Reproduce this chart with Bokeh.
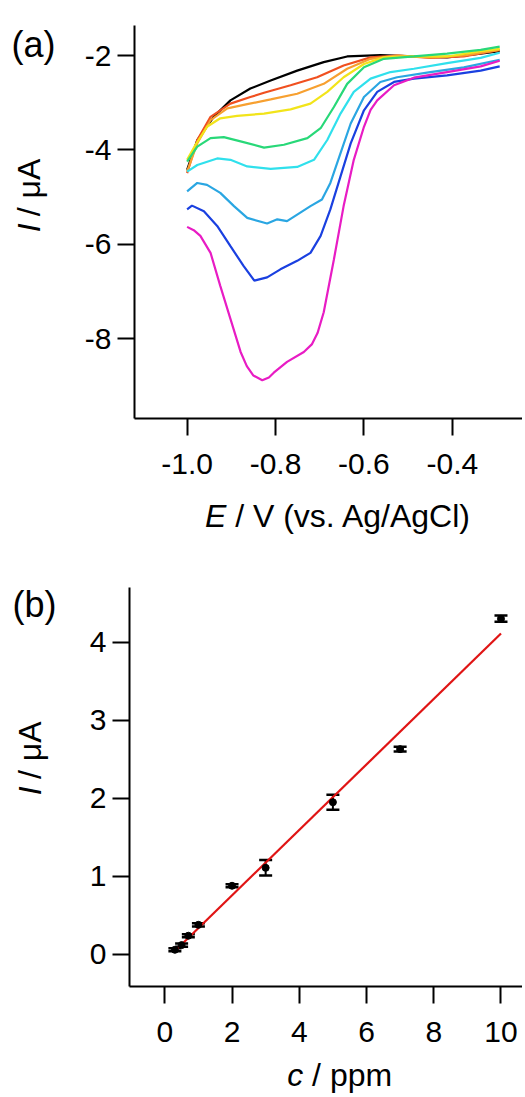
import math
from bokeh.plotting import figure
from bokeh.layouts import column, row
from bokeh.models import (Range1d, FixedTicker, PrintfTickFormatter,
                          Whisker, TeeHead, ColumnDataSource)
from bokeh.core.properties import value
from bokeh.embed import file_html
from bokeh.resources import INLINE

FONT = "Liberation Sans"

# ---------------- panel (a): voltammograms ----------------
E_black = [-1.0, -0.977, -0.940, -0.902, -0.857, -0.811, -0.751, -0.691, -0.638, -0.563, -0.487, -0.412, -0.336, -0.293]
I_black = [-4.42, -3.79, -3.30, -2.95, -2.70, -2.53, -2.32, -2.14, -2.02, -1.99, -2.02, -2.04, -1.96, -1.91]

E_red = [-1.0, -0.977, -0.947, -0.902, -0.857, -0.826, -0.766, -0.706, -0.646, -0.585, -0.525, -0.450, -0.374, -0.293]
I_red = [-4.49, -3.79, -3.30, -3.02, -2.88, -2.79, -2.63, -2.46, -2.21, -2.04, -2.00, -2.05, -2.02, -1.88]

E_orange = [-1.0, -0.977, -0.947, -0.909, -0.864, -0.811, -0.751, -0.691, -0.638, -0.585, -0.525, -0.450, -0.374, -0.293]
I_orange = [-4.46, -3.86, -3.37, -3.12, -3.03, -2.93, -2.81, -2.60, -2.28, -2.07, -2.00, -2.04, -2.00, -1.88]

E_yellow = [-1.0, -0.981, -0.955, -0.925, -0.887, -0.826, -0.766, -0.721, -0.683, -0.646, -0.600, -0.555, -0.487, -0.412, -0.336, -0.293]
I_yellow = [-4.21, -3.89, -3.51, -3.33, -3.28, -3.23, -3.14, -3.02, -2.77, -2.46, -2.18, -2.04, -2.02, -2.02, -1.91, -1.86]

E_green = [-1.0, -0.977, -0.947, -0.917, -0.879, -0.826, -0.781, -0.728, -0.698, -0.668, -0.638, -0.600, -0.555, -0.487, -0.412, -0.336, -0.293]
I_green = [-4.25, -3.93, -3.75, -3.73, -3.82, -3.95, -3.89, -3.75, -3.54, -3.09, -2.60, -2.25, -2.07, -2.02, -1.96, -1.88, -1.81]

E_cyan = [-1.0, -0.977, -0.932, -0.902, -0.864, -0.811, -0.751, -0.713, -0.683, -0.653, -0.623, -0.585, -0.540, -0.487, -0.412, -0.336, -0.293]
I_cyan = [-4.46, -4.32, -4.18, -4.21, -4.35, -4.40, -4.36, -4.21, -3.79, -3.23, -2.77, -2.49, -2.35, -2.28, -2.16, -2.05, -1.94]

E_lblue = [-1.0, -0.977, -0.955, -0.925, -0.894, -0.864, -0.819, -0.796, -0.774, -0.751, -0.721, -0.695, -0.676, -0.653, -0.630, -0.600, -0.563, -0.525, -0.450, -0.374, -0.293]
I_lblue = [-4.88, -4.70, -4.74, -4.91, -5.19, -5.44, -5.56, -5.47, -5.51, -5.37, -5.19, -5.05, -4.70, -4.07, -3.44, -2.88, -2.56, -2.46, -2.35, -2.25, -2.09]

E_blue = [-1.0, -0.989, -0.962, -0.932, -0.902, -0.872, -0.848, -0.819, -0.789, -0.751, -0.721, -0.698, -0.676, -0.653, -0.630, -0.600, -0.570, -0.532, -0.487, -0.412, -0.336, -0.293]
I_blue = [-5.26, -5.18, -5.30, -5.61, -6.04, -6.46, -6.77, -6.70, -6.53, -6.35, -6.18, -5.82, -5.26, -4.56, -3.86, -3.16, -2.77, -2.56, -2.49, -2.42, -2.32, -2.23]

E_magenta = [-1.0, -0.985, -0.970, -0.947, -0.925, -0.902, -0.879, -0.865, -0.850, -0.830, -0.815, -0.804, -0.774, -0.736, -0.718, -0.705, -0.691, -0.668, -0.646, -0.623, -0.600, -0.585, -0.570, -0.532, -0.487, -0.412, -0.336, -0.293]
I_magenta = [-5.63, -5.70, -5.82, -6.18, -6.88, -7.58, -8.28, -8.58, -8.78, -8.88, -8.82, -8.72, -8.49, -8.28, -8.12, -7.88, -7.44, -6.32, -5.19, -4.21, -3.51, -3.15, -2.95, -2.63, -2.47, -2.35, -2.23, -2.11]

curves_a = [
    (E_black, I_black, "#000000"),
    (E_red, I_red, "#f05020"),
    (E_orange, I_orange, "#f7a030"),
    (E_yellow, I_yellow, "#f2e41a"),
    (E_cyan, I_cyan, "#30e0ec"),
    (E_lblue, I_lblue, "#2aa6e2"),
    (E_blue, I_blue, "#1a40e0"),
    (E_magenta, I_magenta, "#e81cc4"),
    (E_green, I_green, "#28d878"),
]

xticks_a = [-1.0, -0.8, -0.6, -0.4]
yticks_a = [-2, -4, -6, -8]

# ---------------- panel (b): calibration ----------------
c_ppm = [0.3, 0.5, 0.7, 1.0, 2.0, 3.0, 5.0, 7.0, 10.0]
I_uA = [0.06, 0.12, 0.24, 0.38, 0.88, 1.11, 1.95, 2.63, 4.30]
I_err = [0.02, 0.02, 0.02, 0.02, 0.02, 0.10, 0.095, 0.03, 0.04]
fit_slope = 0.419
fit_intercept = -0.08
fit_c = [0.3, 10.0]

xticks_b = [0, 2, 4, 6, 8, 10]
yticks_b = [0, 1, 2, 3, 4]

TICK_FS = "30px"
LABEL_PX = 32
LABEL_FS = f"{LABEL_PX}px"
PANEL_FS = "36px"
SPACE_W = 0.278 * LABEL_PX
MID = 0.35  # distance baseline -> middle of the text box, in em
LEFT_W = 66


def style(p):
    p.outline_line_color = None
    p.xgrid.visible = False
    p.ygrid.visible = False
    p.background_fill_color = "white"
    p.border_fill_color = "white"
    for ax in (p.xaxis[0], p.yaxis[0]):
        ax.axis_label = None
        ax.axis_label_standoff = 0
        ax.axis_line_width = 2
        ax.axis_line_color = "black"
        ax.major_tick_line_width = 2
        ax.major_tick_line_color = "black"
        ax.major_tick_out = 17
        ax.major_tick_in = 0
        ax.minor_tick_line_color = None
        ax.major_label_text_font = FONT
        ax.major_label_text_font_size = TICK_FS
        ax.major_label_text_color = "black"
    p.xaxis[0].major_label_standoff = 18
    p.yaxis[0].major_label_standoff = 6


def text_fig(W, H):
    f = figure(width=W, height=H, x_range=Range1d(0, W), y_range=Range1d(0, H),
               output_backend="svg", toolbar_location=None,
               x_axis_type=None, y_axis_type=None, min_border=0)
    f.outline_line_color = None
    f.background_fill_color = "white"
    f.border_fill_color = "white"
    return f


def put_label(f, H, x, y_top, sym, rest, vertical=False):
    # (x, y_top): baseline point where the italic symbol ends
    sh = MID * LABEL_PX
    if vertical:
        angle = math.pi / 2
        x0, y0 = x - sh, H - y_top
        rx, ry = x0, y0 + SPACE_W
    else:
        angle = 0.0
        x0, y0 = x, H - (y_top - sh)
        rx, ry = x0 + SPACE_W, y0
    f.text(x=[x0], y=[y0], text=[sym], text_font=value(FONT),
           text_font_size=LABEL_FS, text_font_style="italic",
           text_align="right", text_baseline="middle", angle=angle,
           text_color="black", text_line_height=1.0)
    f.text(x=[rx], y=[ry], text=[rest], text_font=value(FONT),
           text_font_size=LABEL_FS, text_align="left",
           text_baseline="middle", angle=angle, text_color="black",
           text_line_height=1.0)


def put_panel(f, H, x, y_center, txt):
    f.text(x=[x], y=[H - y_center], text=[txt],
           text_font=value(FONT), text_font_size=PANEL_FS, text_align="left",
           text_baseline="middle", text_color="black", text_line_height=1.0)


# ---- panel a ----
HA = 495
p1 = figure(frame_width=388, frame_height=393, output_backend="svg",
            toolbar_location=None, x_range=Range1d(-1.119, -0.2414),
            y_range=Range1d(-9.69, -1.364),
            min_border_left=134 - LEFT_W, min_border_right=0, min_border_top=25,
            min_border_bottom=HA - 25 - 393)
style(p1)
p1.xaxis[0].ticker = FixedTicker(ticks=xticks_a)
p1.xaxis[0].formatter = PrintfTickFormatter(format="%.1f")
p1.yaxis[0].ticker = FixedTicker(ticks=yticks_a)
p1.yaxis[0].formatter = PrintfTickFormatter(format="%d")
for E, I, col in curves_a:
    p1.line(E, I, line_color=col, line_width=2.2)

a_left = text_fig(LEFT_W, HA)
put_label(a_left, HA, 40, 249.1, "I", "/ \u03bcA", vertical=True)
put_panel(a_left, HA, 11, 24, "(a)")

HA_B = 71
a_bot = text_fig(522, HA_B)
put_label(a_bot, HA_B, 225.8, 526.7 - HA, "E", "/ V (vs. Ag/AgCl)")

# ---- panel b ----
TOP_B = HA + HA_B
HB = 21 + 399 + 70
p2 = figure(frame_width=393, frame_height=399, output_backend="svg",
            toolbar_location=None, x_range=Range1d(-1.05, 10.64),
            y_range=Range1d(-0.41, 4.70),
            min_border_left=129 - LEFT_W, min_border_right=0, min_border_top=21,
            min_border_bottom=70)
style(p2)
p2.xaxis[0].ticker = FixedTicker(ticks=xticks_b)
p2.xaxis[0].formatter = PrintfTickFormatter(format="%d")
p2.yaxis[0].ticker = FixedTicker(ticks=yticks_b)
p2.yaxis[0].formatter = PrintfTickFormatter(format="%d")

src = ColumnDataSource(dict(c=c_ppm, I=I_uA,
                            lo=[v - e for v, e in zip(I_uA, I_err)],
                            hi=[v + e for v, e in zip(I_uA, I_err)]))
p2.line(fit_c, [fit_slope * c + fit_intercept for c in fit_c],
        line_color="#e01414", line_width=2.2)
wh = Whisker(source=src, base="c", upper="hi", lower="lo", dimension="height",
             line_color="black", line_width=2,
             upper_head=TeeHead(size=13, line_width=2.5, line_color="black"),
             lower_head=TeeHead(size=13, line_width=2.5, line_color="black"))
p2.add_layout(wh)
p2.scatter("c", "I", source=src, size=7, color="black", marker="circle")

b_left = text_fig(LEFT_W, HB)
put_label(b_left, HB, 41, 810.1 - TOP_B, "I", "/ \u03bcA", vertical=True)
put_panel(b_left, HB, 12, 587 - TOP_B, "(b)")

HB_B = 1096 - TOP_B - HB
b_bot = text_fig(522, HB_B)
put_label(b_bot, HB_B, 302.7, 1086 - TOP_B - HB, "c", "/ ppm")

layout = column(row(a_left, p1, spacing=0), a_bot,
                row(b_left, p2, spacing=0), b_bot, spacing=0)
open("out.html", "w").write(file_html(layout, INLINE))
